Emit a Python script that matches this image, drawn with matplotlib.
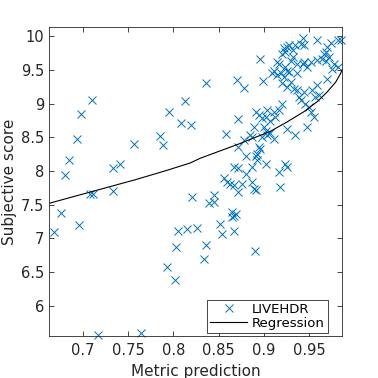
import numpy as np
import matplotlib.pyplot as plt

plt.rcParams['font.family'] = ['DejaVu Sans']

# metric prediction (x) and subjective score (y) for LIVEHDR
pred = [0.6797, 0.6844, 0.693, 0.698, 0.710, 0.733, 0.741, 0.756, 0.785, 0.789,
        0.795, 0.808, 0.813, 0.820, 0.7075, 0.711, 0.733, 0.675, 0.668, 0.695,
        0.821, 0.8056, 0.815, 0.826, 0.803, 0.793, 0.802, 0.717, 0.764,
        0.896, 0.836, 0.870, 0.878, 0.899, 0.872, 0.858, 0.943, 0.941, 0.945,
        0.959, 0.974, 0.982, 0.986, 0.970, 0.969, 0.967, 0.972, 0.969, 0.965,
        0.978, 0.982, 0.976, 0.959, 0.952, 0.945, 0.943, 0.948, 0.937, 0.930,
        0.932, 0.926, 0.922, 0.924, 0.928, 0.932, 0.935, 0.920, 0.915, 0.917,
        0.911, 0.909, 0.915, 0.919, 0.922, 0.926, 0.928, 0.924, 0.920, 0.926,
        0.930, 0.937, 0.933, 0.937, 0.939, 0.941, 0.945, 0.946, 0.954, 0.957,
        0.959, 0.961, 0.970, 0.950, 0.952, 0.956, 0.948, 0.935, 0.926, 0.920,
        0.917, 0.911, 0.904, 0.902, 0.898, 0.900, 0.907, 0.913, 0.891, 0.895,
        0.889, 0.885, 0.887, 0.902, 0.904, 0.907, 0.911, 0.898, 0.878, 0.872,
        0.895, 0.893, 0.891, 0.896, 0.880, 0.893, 0.902, 0.867, 0.872, 0.880,
        0.887, 0.856, 0.917, 0.924, 0.926, 0.859, 0.863, 0.867, 0.872, 0.876,
        0.887, 0.889, 0.891, 0.918, 0.839, 0.845, 0.845, 0.865, 0.867, 0.869,
        0.865, 0.852, 0.854, 0.867, 0.836, 0.834, 0.890]
score = [7.94, 8.17, 8.47, 8.85, 9.05, 8.04, 8.10, 8.40, 8.52, 8.38,
         8.88, 8.71, 9.04, 8.68, 7.66, 7.66, 7.70, 7.38, 7.10, 7.20,
         7.62, 7.11, 7.14, 7.15, 6.88, 6.57, 6.38, 5.56, 5.60,
         9.66, 9.31, 9.35, 9.23, 9.34, 8.77, 8.55, 9.97, 9.89, 9.87,
         9.95, 9.90, 9.94, 9.94, 9.84, 9.77, 9.74, 9.69, 9.64, 9.67,
         9.59, 9.54, 9.52, 9.65, 9.62, 9.62, 9.59, 9.54, 9.59, 9.64,
         9.69, 9.84, 9.82, 9.77, 9.87, 9.79, 9.87, 9.74, 9.62, 9.59,
         9.49, 9.45, 9.42, 9.45, 9.40, 9.49, 9.47, 9.54, 9.30, 9.25,
         9.32, 9.45, 9.22, 9.20, 9.10, 9.05, 9.17, 9.00, 9.20, 9.10,
         9.27, 9.13, 9.37, 8.95, 8.88, 8.80, 8.65, 8.53, 8.63, 9.00,
         8.90, 8.88, 8.90, 8.80, 8.78, 8.65, 8.75, 8.80, 8.88, 8.83,
         8.65, 8.53, 8.51, 8.60, 8.53, 8.56, 8.48, 8.51, 8.46, 8.36,
         8.36, 8.26, 8.23, 8.33, 8.23, 8.16, 8.11, 8.06, 8.04, 7.96,
         8.06, 7.89, 7.99, 8.11, 8.06, 7.84, 7.81, 7.79, 7.69, 7.81,
         7.84, 7.74, 7.72, 7.76, 7.52, 7.54, 7.64, 7.39, 7.34, 7.37,
         7.32, 7.22, 7.07, 7.11, 6.90, 6.70, 6.82]

# regression curve
curve_x = [0.662, 0.7574, 0.7927, 0.8186, 0.8297, 0.874, 0.9074, 0.926,
           0.9444, 0.9593, 0.970, 0.9797, 0.9852, 0.9867]
curve_y = [7.52, 7.87, 8.01, 8.12, 8.19, 8.41, 8.59, 8.73,
           8.88, 9.03, 9.17, 9.32, 9.45, 9.50]

fig = plt.figure(figsize=(3.78, 3.78), dpi=100)
ax = fig.add_axes([0.1296, 0.1111, 0.7752, 0.8175])

ax.plot(pred, score, 'x', color='#0072BD', markersize=6, markeredgewidth=0.7,
        label='LIVEHDR', clip_on=False)
ax.plot(curve_x, curve_y, color='black', linewidth=0.8, label='Regression')

ax.set_xlim(0.6622, 0.9867)
ax.set_ylim(5.552, 10.138)
ax.set_xticks([0.7, 0.75, 0.8, 0.85, 0.9, 0.95])
ax.set_xticklabels(['0.7', '0.75', '0.8', '0.85', '0.9', '0.95'])
ax.set_yticks([6, 6.5, 7, 7.5, 8, 8.5, 9, 9.5, 10])
ax.set_yticklabels(['6', '6.5', '7', '7.5', '8', '8.5', '9', '9.5', '10'])

dark = '#262626'
ax.tick_params(direction='in', length=3.5, width=0.6, top=True, right=True,
               colors=dark, labelsize=10.5)
ax.tick_params(axis='x', pad=5)
for s in ax.spines.values():
    s.set_color(dark)
    s.set_linewidth(0.6)

ax.set_xlabel('Metric prediction', fontsize=11, color=dark, labelpad=4)
ax.set_ylabel('Subjective score', fontsize=11, color=dark, labelpad=3)

leg = ax.legend(loc='lower right', bbox_to_anchor=(0.952, 0.01), fontsize=9.5,
                fancybox=False, framealpha=1, edgecolor=dark, borderpad=0.25,
                handlelength=2.8, handletextpad=0.35, labelspacing=0.05,
                borderaxespad=0)
leg.get_frame().set_linewidth(0.6)

fig.savefig('out.png', dpi=100)
